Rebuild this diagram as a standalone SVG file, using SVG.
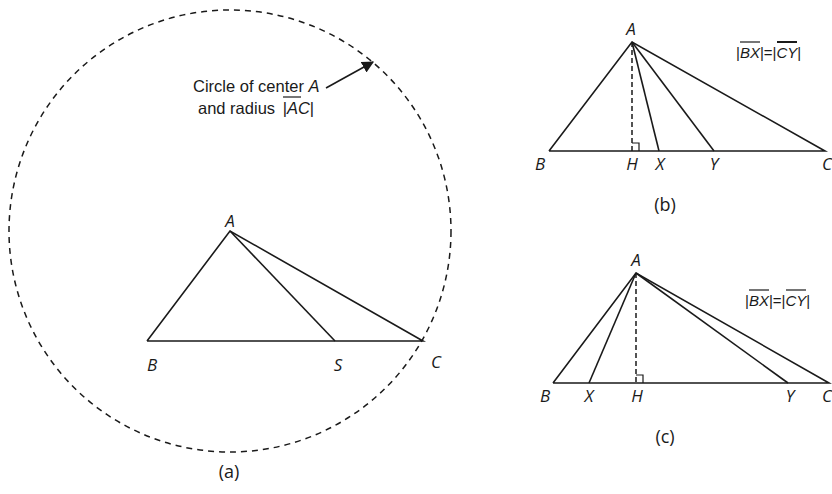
<svg xmlns="http://www.w3.org/2000/svg" width="832" height="494" viewBox="0 0 832 494">
<style>
.ln{stroke:#1a1a1a;stroke-width:1.6;fill:none}
.ds{stroke:#1a1a1a;stroke-width:1.5;fill:none;stroke-dasharray:6,5}
.lb{font-family:"Open Sans","Liberation Sans",sans-serif;font-style:italic;font-size:17px;fill:#1a1a1a;text-anchor:middle}
.cap{font-family:"Open Sans","Liberation Sans",sans-serif;font-size:18px;fill:#1a1a1a;text-anchor:middle}
.nt{font-family:"Liberation Sans",sans-serif;font-size:16.5px;fill:#1a1a1a}
.eq{font-family:"Liberation Sans",sans-serif;font-size:15px;fill:#1a1a1a}
.ov{stroke:#1a1a1a;stroke-width:1.2}
</style>
<defs>
<marker id="ah" viewBox="0 0 10 10" refX="9" refY="5" markerWidth="12" markerHeight="12" markerUnits="userSpaceOnUse" orient="auto">
<path d="M0,0 L10,5 L0,10 z" fill="#1a1a1a"/>
</marker>
</defs>
<rect width="832" height="494" fill="#fff"/>

<g id="panel-a">
<circle class="ds" cx="230" cy="231" r="221"/>
<polyline class="ln" points="147,341 230,231 423,341 147,341"/>
<line class="ln" x1="230" y1="231" x2="335" y2="341"/>
<text class="lb" x="230" y="227">A</text>
<text class="lb" x="152" y="371">B</text>
<text class="lb" x="338" y="371">S</text>
<text class="lb" x="436" y="368">C</text>
<text class="cap" x="229" y="478">(a)</text>
</g>

<g id="note">
<text class="nt" x="193" y="92">Circle of center <tspan font-style="italic">A</tspan></text>
<text class="nt" x="198" y="114">and radius <tspan dx="3">|</tspan><tspan font-style="italic">AC</tspan>|</text>
<line class="ov" x1="283" y1="97" x2="301" y2="97"/>
</g>

<g id="connectors">
<line class="ln" x1="326" y1="88" x2="373" y2="62" marker-end="url(#ah)"/>
</g>

<g id="panel-b">
<polyline class="ln" points="549,151 632,42 825,151 549,151"/>
<line class="ln" x1="632" y1="42" x2="659" y2="151"/>
<line class="ln" x1="632" y1="42" x2="714" y2="151"/>
<line class="ds" x1="632" y1="42" x2="632" y2="151" style="stroke-dasharray:5,3"/>
<polyline class="ln" style="stroke-width:1.2" points="632,143 639,143 639,151"/>
<text class="lb" x="631" y="35">A</text>
<text class="lb" x="540" y="170">B</text>
<text class="lb" x="632" y="170">H</text>
<text class="lb" x="660" y="170">X</text>
<text class="lb" x="714" y="170">Y</text>
<text class="lb" x="822" y="170" style="text-anchor:start">C</text>
<text class="cap" x="665" y="211">(b)</text>
<text class="eq" x="736" y="58">|<tspan font-style="italic">BX</tspan>|=|<tspan font-style="italic">CY</tspan>|</text>
<line class="ov" x1="740" y1="42" x2="760" y2="42"/>
<line class="ov" x1="777" y1="42" x2="797" y2="42" style="stroke-width:2"/>
</g>

<g id="panel-c">
<polyline class="ln" points="553,383 636,273 829,383 553,383"/>
<line class="ln" x1="636" y1="273" x2="589" y2="383"/>
<line class="ln" x1="636" y1="273" x2="788" y2="383"/>
<line class="ds" x1="636" y1="273" x2="636" y2="383" style="stroke-dasharray:5,3"/>
<polyline class="ln" style="stroke-width:1.2" points="636,375 643,375 643,383"/>
<text class="lb" x="636" y="266">A</text>
<text class="lb" x="545" y="402">B</text>
<text class="lb" x="589" y="402">X</text>
<text class="lb" x="637" y="402">H</text>
<text class="lb" x="790" y="402">Y</text>
<text class="lb" x="822" y="402" style="text-anchor:start">C</text>
<text class="cap" x="665" y="443">(c)</text>
<text class="eq" x="745" y="306">|<tspan font-style="italic">BX</tspan>|=|<tspan font-style="italic">CY</tspan>|</text>
<line class="ov" x1="749" y1="290" x2="769" y2="290"/>
<line class="ov" x1="786" y1="290" x2="806" y2="290"/>
</g>
</svg>
